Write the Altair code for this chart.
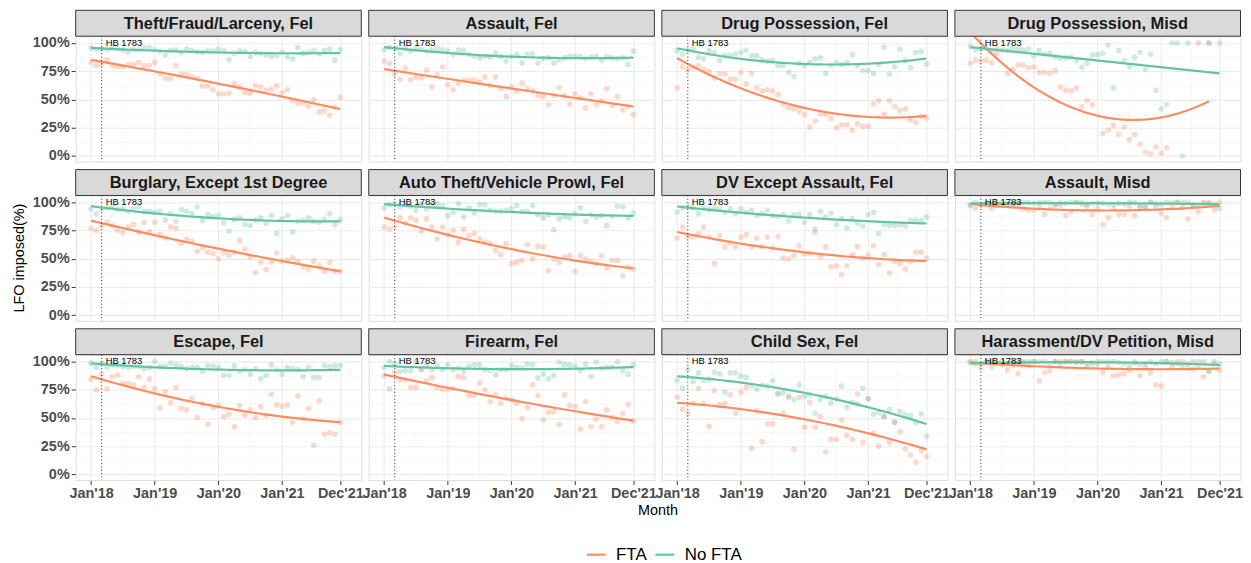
import altair as alt
import pandas as pd

CATEGORIES = [
    "Theft/Fraud/Larceny, Fel", "Assault, Fel", "Drug Possession, Fel", "Drug Possession, Misd",
    "Burglary, Except 1st Degree", "Auto Theft/Vehicle Prowl, Fel", "DV Except Assault, Fel", "Assault, Misd",
    "Escape, Fel", "Firearm, Fel", "Child Sex, Fel", "Harassment/DV Petition, Misd",
]
SERIES = ["FTA", "No FTA"]
COLORS = ["#FC8D62", "#66C2A5"]
TICK_MONTHS = [0, 12, 24, 36, 47]
TICK_LABELS = ["Jan'18", "Jan'19", "Jan'20", "Jan'21", "Dec'21"]
MINOR_MONTHS = [6, 18, 30, 41.5]
Y_TICKS = [0, 25, 50, 75, 100]
Y_MINOR = [12.5, 37.5, 62.5, 87.5]
HB_MONTH = 2
HB_LABEL = "HB 1783"
Y_TITLE = "LFO imposed(%)"
X_TITLE = "Month"
LINEAR_FITS = [("Drug Possession, Misd", "No FTA")]

# monthly values, Jan 2018 .. Dec 2021 (48 months); None = no point that month
FTA_THEFT = [82.8, 80, 81.4, 85, 80, 79, 79, 81, 81, 82.8, 80, 80,
             83, 72.8, 68.6, 68.6, 80, 72, 72, 70, 68.6, 62, 62, 58.6,
             55, 55, 55.6, 64, 61, 56, 56, 62, 61, 58, 59, 62,
             56, 58.6, 49, 46.4, 47, 44, 50, 39, 40, 36, 43, 52]
NOFTA_THEFT = [95.6, 94, 94.7, 94, 95.6, 94.7, 94, 92.3, 94, 94, 95.6, 96,
               94, 92.6, 89.6, 93.5, 94, 91.7, 94.7, 93.5, 92, 91.7, 93.2, 93,
               94.7, 93, 85.2, 91, 93, 92.6, 88, 91.7, 90.5, 89.6, 88, 88.8,
               91.7, 87.6, 85.8, 96, 91, 91.7, 93.2, 90.5, 93.5, 94.7, 84.6, 94]
FTA_ASSAULT_FEL = [84, 82, 72.8, 67.8, 77.8, 67.5, 70, 69, 76, 61, 72, 78.7,
                   63.3, 58.6, 64.5, 67, 67, 67.5, 65.4, 70, 62.4, 70, 59.5, 52.7,
                   61, 57.4, 64.5, 59.5, 57.4, 53.6, 52.7, 45.6, 53.6, 60.4, 53.6, 46,
                   55, 51.5, 42.6, 55, 45.6, 49, 59.5, 44.7, 52.7, 40.8, 43.8, 36.7]
NOFTA_ASSAULT_FEL = [94, 95.9, 95, 90.5, 95, 92.9, 95, 94, 92.9, 93.5, 95, 94,
                     92.9, 90, 94, 93.5, 90, 88.2, 87, 88.2, 87.6, 91, 88.2, 84,
                     88.2, 90, 82.2, 90, 90.5, 82.2, 86, 87, 82.2, 85, 87, 88.2,
                     88.2, 88.2, 86, 87.6, 88.2, 84.6, 88.2, 87, 86, 87, 81, 92.9]
FTA_DRUG_FEL = [60.3, 79, 76, 78.5, 80, 77, 75, 69, 73, 72.6, 68, 68,
                74, 63.8, 73, 60.3, 57.4, 58.5, 57.4, 54.4, 46, 42.6, 41.8, 39.7,
                36.8, 25.6, 30.9, 37.4, 36.8, 33, 25, 27.6, 27.6, 22.6, 28.5, 26.2,
                26.2, 46.2, 49, 36.8, 49, 43.8, 40.3, 41.8, 32, 29.4, 35, 33.5]
NOFTA_DRUG_FEL = [93.2, 90.3, 93.8, 94.7, 87.4, 85.9, 93.2, 91.8, 84.4, 88.8, 88.8, 90.3,
                  91.8, 93.8, 88.8, 88.8, 85, 83.8, 84.4, 80, 80, 74, 70.3, 82,
                  80, 83, 85.9, 86.8, 73.2, 80, 83, 80.9, 83, 89.7, 80, 75.6,
                  75.6, 73.2, 80.9, 96.2, 72.6, 79, 94.7, 84.4, 78, 91.8, 92.6, 81.5]
FTA_DRUG_MISD = [82, 84.7, 84.1, 84.7, 82.6, 90.6, None, 72.9, 76.8, 80.6, 80.6, 78.2,
                 78.8, 73.8, 73.8, 72.9, 75.3, 61, 58.2, 57.6, 60, 43.5, 49, 45.3,
                 None, 20, 23, 27, 19, 25.6, 14.4, 19, 10.3, 3.5, 2, 8,
                 2.6, 7.3, None, None, None, None, None, 100, None, 100, None, None]
NOFTA_DRUG_MISD = [97, 94.1, 94.7, 95.6, 92.6, 94.7, 93.8, 93.2, 95.6, 94.7, 93.8, 94.7,
                   88.8, 93.2, 90.3, 90.9, 87.6, 86.2, 87, 87.6, 84.7, 78.5, 82, 89.7,
                   89.7, 90.9, 98.2, 60.3, 93.2, 84.4, 79.1, 87.4, 91.8, 76.8, 90.3, 58,
                   41.8, 45.6, 100, 100, 0, 100, None, None, None, 100, None, 100]
FTA_BURGLARY = [77, 75, 79, 82.3, 79.4, 75, 72.9, 78.2, 80.2, 73.5, 82.3, 74.3,
                82.3, 71.4, 68.4, 78.2, 77, 64, 67, 65.5, 56.6, 59.6, 55.8, 54.6,
                49.9, 55.2, 52.8, 55.8, 66, 58.1, 51.6, 37.5, 46.9, 40.4, 46.9, 55.2,
                47.8, 48.7, 50.7, 47.8, 42.8, 41, 47.8, 44, 38.9, 46.9, 38.9, 38.9]
NOFTA_BURGLARY = [94.1, 89.7, 93.5, 95, 95.9, 93.5, 94.1, 92, 94.1, 95.9, 92, 92,
                  91.2, 92, 84.1, 90, 83.2, 93.5, 92, 90, 95.9, 84.1, 89.1, 87.6,
                  88.2, 81.7, 74.3, 85, 86.1, 80.2, 79.4, 84.1, 86.1, 81.1, 88.2, 72.3,
                  85, 88.2, 73.7, 83.2, 84.1, 86.1, 83.2, 82.3, 84.7, 90, 80.2, 84.7]
FTA_AUTO = [78.1, 76.3, 78.7, 86.1, 81.1, 86.1, 84, 74.3, 85.2, 78.1, 67.5, 78.1,
            71.3, 75.1, 64.5, 76.3, 70.4, 72.2, 67.5, 64.5, 63.3, 57.4, 53.6, 63.3,
            45.6, 46.7, 48.5, 62.4, 49.7, 60.9, 60.4, 39.6, 49.7, 46.7, 51.5, 52.7,
            38.8, 52.7, 49.7, 47.6, 45.6, 52.7, 41.7, 48.5, 48.5, 34.9, 42.6, 40.8]
NOFTA_AUTO = [95, 97.9, 98.8, 95.9, 97.9, 96.4, 92.9, 97.9, 94.1, 98.8, 97.9, 97,
              88.2, 91.1, 98.8, 87, 95, 90.5, 97.9, 97.9, 92.9, 92, 92, 92.9,
              94.1, 97, 92, 92, 97, 89.1, 86.1, 89.1, 75.7, 85.2, 87, 86.1,
              89.9, 95, 83.1, 89.1, 87, 88.2, 79.3, 87.6, 96.4, 95.9, 86.1, 90.5]
FTA_DV = [68.3, 78.1, 69.8, 69.2, 72, 78.1, 69.2, 45.6, 70.4, 60.4, 63.9, 60.4,
          69.2, 71.3, 60.4, 68.3, 60.4, 69.2, 59.5, 69.8, 50.6, 49.7, 52.7, 61.5,
          54.4, 54.4, 73.4, 51.5, 60.4, 42.6, 43.8, 35.8, 43.8, 53.6, 60.9, 50.6,
          52.7, 61.5, 44.7, 53.6, 37.3, 47.6, 45.6, 40.8, 47.6, 55.6, 55.6, 50.6]
NOFTA_DV = [91.1, 95, 96.4, 95, 89.9, 95, 93.5, 95, 94.1, 91.1, 94.1, 89.9,
            94.1, 91.1, 92.9, 88.2, 89.9, 92.9, 88.2, 87.6, 89.1, 83.4, 89.1, 89.1,
            82.2, 89.1, 76.3, 92, 87, 90.5, 80.2, 85.2, 77.2, 85.2, 81.1, 78.7,
            89.1, 91.1, 72.2, 80.2, 79.3, 79.3, 80.2, 78.7, 84, 84, 84, 87]
FTA_ASSAULT_MISD = [97, 94.7, 97, 98, 94.7, 97, 98, 97.6, 97, 97, 94.1, 93.2,
                    93.2, 96, 89.3, 94.7, 97, 100, 88.2, 91.7, 100, 100, 96.2, 89.3,
                    94.1, 80.5, 86.4, 94.1, 89.3, 89.3, 96.2, 88.2, 96.2, 95.3, 100, 96.2,
                    90.2, 86.4, 96.2, 100, 96.2, 85.2, 96.2, 91.7, 100, 99.1, 93.2, 100]
NOFTA_ASSAULT_MISD = [97.6, 100, 98.2, 99.1, 98.2, 100, 100, 99.1, 98.2, 100, 100, 100,
                      99.1, 100, 100, 100, 98.2, 97.6, 99.1, 100, 100, 98.2, 98.2, 99.1,
                      99.1, 99.1, 98.2, 98.2, 99.1, 98.2, 100, 100, 96.2, 96.2, 100, 99.1,
                      98.2, 100, 100, 100, 100, 100, 97.6, 98.2, 99.1, 100, 98.2, 94.7]
FTA_ESCAPE = [84.3, 74.9, 88.8, 75.7, 86.4, 87.9, 80.5, 80.5, 79, 86.4, 76.9, 84.3,
              75.7, 58.6, 73.4, 63.3, 76.9, 58.6, 57.1, 67.5, 50.3, 62.7, 44.4, 59.2,
              60.9, 51.2, 53.3, 42.3, 60.9, 52.7, 57.1, 50.3, 60.1, 52.1, 71, 61.5,
              60.4, 61.5, 46.2, 69.5, 49.1, 58.6, 26, 65.1, 35.5, 37, 35.5, 46.2]
NOFTA_ESCAPE = [98.5, 94.7, 98.5, 94.7, 97, 96.4, 95.6, 94.7, 95.6, 95.6, 93.5, 94.7,
                100, 95.6, 95.6, 98.5, 97, 95.6, 93.5, 94.7, 94.7, 91.1, 96.4, 95.6,
                94.7, 87.6, 87.6, 96.4, 91.1, 92.6, 88.8, 93.5, 84.6, 87.6, 97, 92.6,
                88.8, 94.7, 94.1, 92.6, 86.7, 94.7, 85.8, 85.8, 96.4, 95.6, 96.4, 96.4]
FTA_FIREARM = [87.6, 75.7, 90.5, 83.7, 83.7, 76.9, 76.9, 92.6, 82.8, 85.8, 76.9, 74.9,
               75.7, 76.3, 86.7, 85.8, 69.8, 69.8, 80.8, 74.9, 64.5, 70.4, 63, 67.5,
               66, 63, 49.7, 59.2, 79.3, 69.8, 48.2, 55, 55.6, 44.4, 70.4, 60.9,
               60.1, 40.2, 64.5, 42.3, 49.1, 42.3, 57.1, 50.3, 46.7, 54.1, 62.1, 47.3]
NOFTA_FIREARM = [94.7, 100, 98.5, 91.1, 91.7, 91.7, 99.4, 93.5, 95.6, 92.6, 96.4, 92.6,
                 97, 92.6, 94.1, 91.1, 95.6, 97, 97, 92.6, 91.7, 88.2, 92.6, 92.6,
                 96.4, 94.7, 94.1, 97.6, 97, 85.2, 88.8, 84.6, 87.6, 99.4, 97.6, 97,
                 95.6, 91.7, 97.6, 86.7, 99.4, 94.1, 94.7, 94.7, 100, 91.7, 88.8, 97]
FTA_CHILD = [68.3, 57.7, 54.1, 63, 76.3, 63, 42.6, 74, 61.5, 63, 70.4, 54.1,
             72.8, 77.2, 23.1, 56.5, 29, 44.7, 44.7, 71.6, 54.1, 68.3, 22.2, 68.3,
             41.7, 63.9, 41.7, 51.5, 20.1, 31.1, 31.1, 48.2, 34.6, 31.1, 71.3, 28.4,
             66.9, 36.7, 24.9, 51.5, 28.4, 46.2, 38, 22.5, 17.2, 10.7, 21, 15.9]
NOFTA_CHILD = [83.1, 76.3, 92.9, 82.2, 89.9, 83.1, 84, 90.5, 89.1, 72.8, 89.9, 89.9,
               87, 86.1, 78.7, 75.7, 78.7, 78.1, 83.1, 71.3, 72.2, 69.2, 66.3, 79.3,
               69.2, 70.4, 54.1, 66.3, 69.2, 63.3, 66.9, 78.1, 59.5, 63.9, 62.4, 76.3,
               66.9, 53.3, 54.7, 51.1, 57.7, 46.2, 55.6, 52.7, 52.1, 45.6, 53.6, 33.7]
FTA_HARASS = [100, 100, 94.1, 100, 100, 100, 97, 92.3, 96.2, 89.3, 100, 96.2,
              100, 82.8, 90.2, 92.3, 100, 100, 100, 100, 100, 100, 95.3, 98.2,
              100, 90.2, 95.3, 87.3, 88.2, 89.3, 92.3, 98.2, 87.3, 94.7, 90.2, 79.3,
              78.4, 100, 94.7, 100, 100, 94.1, 93.2, 100, 86.4, 91.1, 100, 92.3]
NOFTA_HARASS = [99.1, 97.6, 98.2, 100, 95.3, 98.2, 100, 98.2, 100, 100, 99.1, 100,
                100, 100, 100, 98.2, 100, 97.6, 100, 100, 99.1, 100, 98.2, 99.1,
                97.6, 100, 100, 100, 99.1, 98.2, 95.3, 100, 97.6, 98.2, 100, 98.2,
                100, 100, 99.1, 98.2, 96.2, 98.2, 100, 96.2, 100, 91.7, 98.2, 97.6]

FTA_VALUES = [FTA_THEFT, FTA_ASSAULT_FEL, FTA_DRUG_FEL, FTA_DRUG_MISD,
              FTA_BURGLARY, FTA_AUTO, FTA_DV, FTA_ASSAULT_MISD,
              FTA_ESCAPE, FTA_FIREARM, FTA_CHILD, FTA_HARASS]
NOFTA_VALUES = [NOFTA_THEFT, NOFTA_ASSAULT_FEL, NOFTA_DRUG_FEL, NOFTA_DRUG_MISD,
                NOFTA_BURGLARY, NOFTA_AUTO, NOFTA_DV, NOFTA_ASSAULT_MISD,
                NOFTA_ESCAPE, NOFTA_FIREARM, NOFTA_CHILD, NOFTA_HARASS]

rows = []
for cat, fta, nofta in zip(CATEGORIES, FTA_VALUES, NOFTA_VALUES):
    for series, vals in zip(SERIES, (fta, nofta)):
        for m, v in enumerate(vals):
            if v is not None:
                rows.append({"category": cat, "series": series, "month": m, "value": v})
df = pd.DataFrame(rows)

FONT = "Liberation Sans"
W, H = 287, 126
STRIP_H = 26
COL_GAP, ROW_GAP = 7.5, 34

x_major_test = " || ".join(f"datum.value == {m}" for m in TICK_MONTHS)
x_label_expr = " : ".join(f'datum.value == {m} ? "{l}"' for m, l in zip(TICK_MONTHS, TICK_LABELS)) + ' : ""'
y_major_test = " || ".join(f"datum.value == {v}" for v in Y_TICKS)
y_label_expr = f"({y_major_test}) ? datum.value + '%' : ''"
linear_test = " || ".join(f"(datum.category == '{c}' && datum.series == '{s}')" for c, s in LINEAR_FITS)


def x_enc(field):
    return alt.X(
        f"{field}:Q",
        scale=alt.Scale(domain=[-2.9, 50.95], nice=False, zero=False),
        axis=alt.Axis(
            values=sorted(TICK_MONTHS + MINOR_MONTHS), labelExpr=x_label_expr, title=None,
            domain=False, labelFont=FONT, labelFontSize=14.5, labelFontWeight="bold",
            labelColor="#4D4D4D", labelPadding=2, labelOverlap=False, labelFlush=False,
            tickSize=4.5, tickColor="#333333", tickWidth=1,
            tickOpacity={"condition": {"test": x_major_test, "value": 1}, "value": 0},
            grid=True,
            gridColor={"condition": {"test": x_major_test, "value": "#EBEBEB"}, "value": "#F2F2F2"},
            gridWidth={"condition": {"test": x_major_test, "value": 1.1}, "value": 0.6},
        ),
    )


def y_enc(field):
    return alt.Y(
        f"{field}:Q",
        scale=alt.Scale(domain=[-5, 106], nice=False, zero=False),
        axis=alt.Axis(
            values=sorted(Y_TICKS + Y_MINOR), labelExpr=y_label_expr, title=None,
            domain=False, labelFont=FONT, labelFontSize=14.5, labelFontWeight="bold",
            labelColor="#4D4D4D", labelPadding=2, labelOverlap=False, labelFlush=False,
            tickSize=4.5, tickColor="#333333", tickWidth=1,
            tickOpacity={"condition": {"test": y_major_test, "value": 1}, "value": 0},
            grid=True,
            gridColor={"condition": {"test": y_major_test, "value": "#EBEBEB"}, "value": "#F2F2F2"},
            gridWidth={"condition": {"test": y_major_test, "value": 1.1}, "value": 0.6},
        ),
    )


legend = alt.Legend(
    title=None, orient="none", direction="horizontal", legendX=512, legendY=510,
    symbolType="stroke", symbolStrokeWidth=2.2, symbolSize=361, symbolOpacity=1,
    labelFont=FONT, labelFontSize=17, labelColor="#000000", labelOffset=9, columnPadding=4,
)
color = alt.Color("series:N", scale=alt.Scale(domain=SERIES, range=COLORS), legend=legend)

points = alt.Chart().mark_circle(size=32, opacity=0.33).encode(
    x=x_enc("month"), y=y_enc("value"), color=color
)
lines_poly = alt.Chart().transform_filter(f"!({linear_test})").transform_regression(
    "month", "value", groupby=["category", "series"], method="poly", order=2
).mark_line(strokeWidth=2.2, clip=True).encode(x=x_enc("month"), y=y_enc("value"), color=color)
lines_lin = alt.Chart().transform_filter(linear_test).transform_regression(
    "month", "value", groupby=["category", "series"], method="linear"
).mark_line(strokeWidth=2.2).encode(x=x_enc("month"), y=y_enc("value"), color=color)

one_row = alt.Chart().transform_aggregate(n="count()", groupby=["category"])

hb_rule = one_row.transform_calculate(hb=f"{HB_MONTH}").mark_rule(
    color="#222222", strokeDash=[1, 2.4], strokeWidth=1
).encode(x=x_enc("hb"))
hb_text = one_row.transform_calculate(hb=f"{HB_MONTH}", hby="100").mark_text(
    text=HB_LABEL, align="left", baseline="middle", dx=4, font=FONT, fontSize=9.5, color="#000000"
).encode(x=x_enc("hb"), y=y_enc("hby"))

strip_rect = one_row.mark_rect(fill="#D9D9D9", stroke="#333333", strokeWidth=1).encode(
    x=alt.value(0), x2=alt.value(W), y=alt.value(-STRIP_H), y2=alt.value(0)
)
strip_text = one_row.mark_text(
    font=FONT, fontSize=16.5, fontWeight="bold", color="#1A1A1A", baseline="middle", align="center"
).encode(text="category:N", x=alt.value(W / 2), y=alt.value(-STRIP_H / 2 + 0.5))

y_title = alt.Chart().transform_filter(
    alt.datum.category == CATEGORIES[4]
).transform_aggregate(n="count()", groupby=["category"]).mark_text(
    text=Y_TITLE, angle=270, font=FONT, fontSize=14.5, color="#000000", baseline="middle", align="center"
).encode(x=alt.value(-55.5), y=alt.value(H / 2))

x_title = alt.Chart().transform_filter(
    alt.datum.category == CATEGORIES[9]
).transform_aggregate(n="count()", groupby=["category"]).mark_text(
    text=X_TITLE, font=FONT, fontSize=14.5, color="#000000", baseline="middle", align="center"
).encode(x=alt.value(W + COL_GAP / 2), y=alt.value(H + 31.5))

panel = alt.layer(points, lines_poly, lines_lin, hb_rule, hb_text, strip_rect, strip_text,
                  y_title, x_title, data=df).properties(width=W, height=H)

chart = panel.facet(
    facet=alt.Facet("category:N", sort=CATEGORIES,
                    header=alt.Header(labels=False, labelFontSize=0, labelPadding=0,
                                      labelExpr="''", title=None)),
    columns=4,
    spacing={"row": ROW_GAP, "column": COL_GAP},
    bounds="flush",
).properties(
    padding={"left": 4, "top": 0, "right": 0, "bottom": 0},
).configure_header(
    labels=False, labelFontSize=0, labelPadding=0, titleFontSize=0, titlePadding=0
).configure_view(
    stroke="#333333", strokeWidth=1, fill="white"
).configure(font=FONT, background="white")

chart.save("out.html", embed_options={"renderer": "svg", "actions": False})
